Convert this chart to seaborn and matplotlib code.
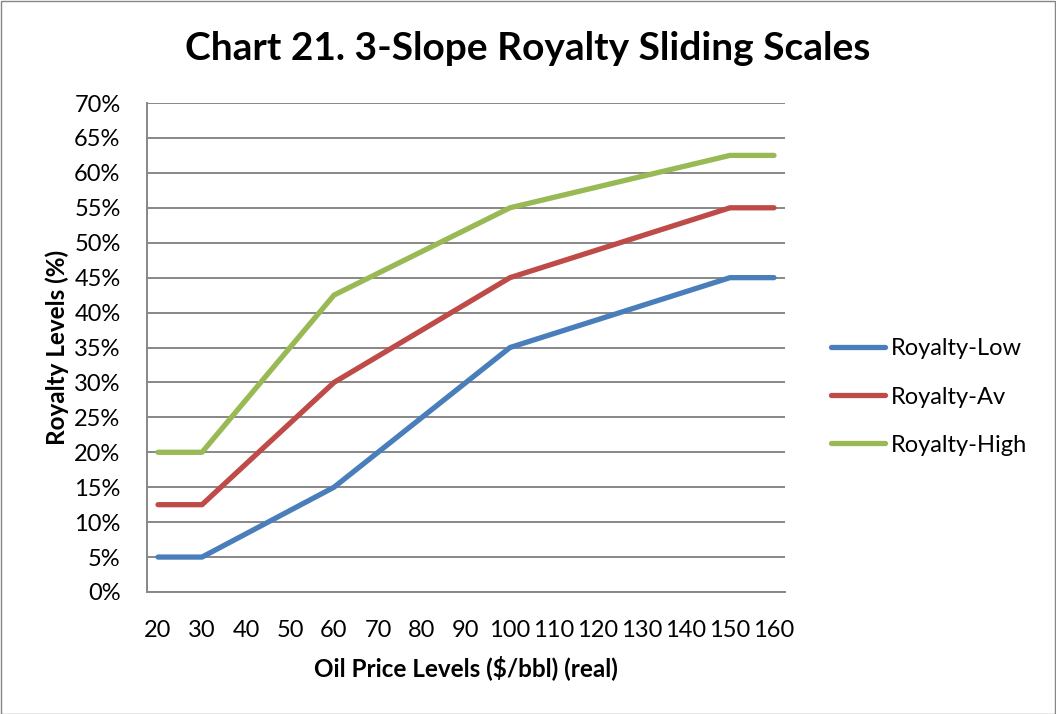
import matplotlib
matplotlib.use("Agg")
import matplotlib.pyplot as plt
from matplotlib.patches import Rectangle
from matplotlib.ticker import FixedLocator, FuncFormatter
import seaborn as sns
import pandas as pd

# Data (breakpoints of each sliding scale)
prices = [20, 30, 60, 100, 150, 160]
royalty_low = [5, 5, 15, 35, 45, 45]
royalty_av = [12.5, 12.5, 30, 45, 55, 55]
royalty_high = [20, 20, 42.5, 55, 62.5, 62.5]
series_names = ["Royalty-Low", "Royalty-Av", "Royalty-High"]
colors = ["#4A7EBB", "#BE4B48", "#98B954"]
tick_labels = [str(v) for v in range(20, 161, 10)]
y_ticks = list(range(0, 71, 5))

df = pd.concat([
    pd.DataFrame({"price": prices, "royalty": vals, "series": name})
    for name, vals in zip(series_names, [royalty_low, royalty_av, royalty_high])
])

sns.set_style("white")
plt.rcParams["font.family"] = ["Lato", "DejaVu Sans"]
plt.rcParams["text.color"] = "black"
plt.rcParams["axes.labelcolor"] = "black"
plt.rcParams["xtick.labelcolor"] = "black"
plt.rcParams["ytick.labelcolor"] = "black"

fig = plt.figure(figsize=(10.56, 7.14), dpi=100)
ax = fig.add_axes([147 / 1056, 1 - 592 / 714, (785 - 147) / 1056, (592 - 103) / 714])

sns.lineplot(data=df, x="price", y="royalty", hue="series", palette=colors,
             hue_order=series_names, linewidth=3.8, ax=ax, legend=True,
             solid_capstyle="round", solid_joinstyle="round")

grid_c = "#878787"
ax.set_xlim(17.5, 162.5)
ax.set_ylim(0, 70)
ax.xaxis.set_major_locator(FixedLocator(list(range(20, 161, 10))))
ax.set_xticklabels(tick_labels)
ax.xaxis.set_minor_locator(FixedLocator([17.5 + 5 * k for k in range(30)]))
ax.yaxis.set_major_locator(FixedLocator(y_ticks))
ax.yaxis.set_major_formatter(FuncFormatter(lambda v, p: f"{int(v)}%"))
ax.tick_params(axis="x", which="major", length=0, pad=20, labelsize=17, labelcolor="black")
ax.tick_params(axis="x", which="minor", length=8, width=1.3, color=grid_c, direction="out")
ax.tick_params(axis="y", which="major", length=8, width=1.3, color=grid_c, direction="out",
               pad=11, labelsize=17, labelcolor="black")
ax.yaxis.grid(True, color=grid_c, linewidth=1.4)
ax.xaxis.grid(False)
ax.set_axisbelow(True)
for s in ["top", "right"]:
    ax.spines[s].set_visible(False)
for s in ["left", "bottom"]:
    ax.spines[s].set_color(grid_c)
    ax.spines[s].set_linewidth(1.4)

ax.set_xlabel("Oil Price Levels ($/bbl) (real)", fontsize=17.5, fontweight="bold",
              labelpad=10, color="black")
ax.set_ylabel("Royalty Levels (%)", fontsize=17.5, fontweight="bold", labelpad=4, color="black")

fig.text(528 / 1056, 1 - 48 / 714, "Chart 21. 3-Slope Royalty Sliding Scales",
         ha="center", va="center", fontsize=28, fontweight="bold", color="black")

handles, labels = ax.get_legend_handles_labels()
leg = ax.legend(handles, labels, loc="center left", bbox_to_anchor=(831 / 1056, 1 - 397 / 714),
                bbox_transform=fig.transFigure, frameon=False, fontsize=17,
                handlelength=2.3, handletextpad=0.25, labelspacing=1.15, borderpad=0,
                borderaxespad=0)
for t in leg.get_texts():
    t.set_color("black")
for h in leg.get_lines():
    h.set_linewidth(3.8)
    h.set_solid_capstyle("round")

fig.add_artist(Rectangle((0.5 / 1056, 0.5 / 714), 1 - 1.5 / 1056, 1 - 1.5 / 714,
                         transform=fig.transFigure, fill=False, edgecolor="#868686", linewidth=1))

fig.savefig("out.png", dpi=100)
